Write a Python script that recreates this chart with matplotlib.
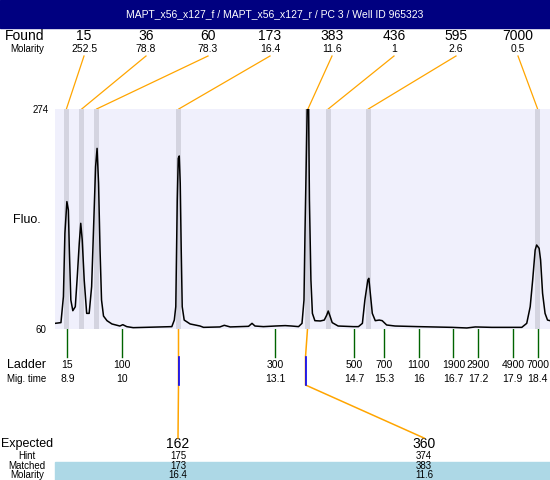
import matplotlib
matplotlib.use("Agg")
import matplotlib.pyplot as plt
from matplotlib.patches import Rectangle

plt.rcParams['font.family'] = ['Liberation Sans', 'DejaVu Sans']

title = "MAPT_x56_x127_f / MAPT_x56_x127_r / PC 3 / Well ID 965323"

# electropherogram trace (migration time s, fluorescence)
trace_t = [8.65, 8.77, 8.82, 8.85, 8.89, 8.92, 8.94, 8.97, 9.01, 9.06, 9.10, 9.14,
           9.17, 9.20, 9.24, 9.29, 9.34, 9.39, 9.43, 9.47, 9.50, 9.53, 9.56, 9.59,
           9.63, 9.70, 9.80, 9.96, 10.02, 10.10, 10.23, 11.01, 11.06, 11.09, 11.12,
           11.14, 11.16, 11.18, 11.20, 11.22, 11.26, 11.38, 11.58, 11.65, 11.98, 12.07,
           12.19, 12.56, 12.63, 12.69, 12.86, 13.10, 13.30, 13.43, 13.57, 13.64, 13.68,
           13.70, 13.73, 13.75, 13.77, 13.79, 13.82, 13.85, 13.90, 14.01, 14.09, 14.14,
           14.17, 14.21, 14.25, 14.37, 14.68, 14.78, 14.86, 14.91, 14.97, 14.99, 15.02,
           15.06, 15.12, 15.20, 15.26, 15.35, 15.52, 15.99, 16.67, 16.97, 17.14, 17.47,
           17.81, 18.08, 18.18, 18.25, 18.30, 18.35, 18.38, 18.43, 18.46, 18.50, 18.55,
           18.60, 18.65]
trace_f = [65.5, 66.2, 91.5, 153, 183.9, 175.8, 136.8, 88.2, 77.8, 81.7, 110.9, 143.3,
           162.8, 146.6, 107.7, 75.2, 75.2, 101.2, 159.5, 217.9, 235.7, 201.7, 136.8, 88.2,
           72.6, 68.1, 64.9, 62.9, 64.2, 62.3, 61.3, 62.3, 68.7, 81.7, 185.5,
           226, 228.3, 201.7, 136.8, 81.7, 68.7, 64.9, 62.9, 61.6, 62.0, 63.6,
           62.0, 62.6, 65.5, 62.9, 62.3, 62.9, 63.3, 62.9, 62.3, 65.5, 88.2,
           153, 234.1, 290, 290, 185.5, 107.7, 75.2, 68.1, 67.8, 68.7, 73.6,
           77.5, 72.0, 66.2, 62.9, 62.3, 62.3, 65.5, 88.2, 107.7, 109.3, 94.7,
           75.2, 68.1, 68.7, 68.1, 63.9, 62.9, 62.3, 61.6, 61.0, 62.0, 61.6,
           61.6, 61.6, 65.5, 81.7, 107.7, 136.8, 141.7, 138.5, 127.1, 94.7, 75.2,
           68.7, 68.1]

# found peaks
found_size = ["15", "36", "60", "173", "383", "436", "595", "7000"]
found_molarity = ["252.5", "78.8", "78.3", "16.4", "11.6", "1", "2.6", "0.5"]
found_time = [8.88, 9.19, 9.49, 11.15, 13.76, 14.17, 14.98, 18.40]

# ladder
ladder_size = ["15", "100", "300", "500", "700", "1100", "1900", "2900", "4900", "7000"]
ladder_time = [8.9, 10, 13.1, 14.7, 15.3, 16, 16.7, 17.2, 17.9, 18.4]

# expected fragments
expected = ["162", "360"]
hint = ["175", "374"]
matched = ["173", "383"]
matched_molarity = ["16.4", "11.6"]
matched_idx = [3, 4]

fig = plt.figure(figsize=(5.5, 4.8), dpi=100)

# overlay in pixel coordinates for all the labels
ov = fig.add_axes([0, 0, 1, 1])
ov.set_xlim(0, 550)
ov.set_ylim(480, 0)
ov.axis('off')

ax = fig.add_axes([55 / 550, 1 - 329 / 480, 495 / 550, 220 / 480])
ax.set_facecolor('#f0f0fc')
ax.set_xlim(8.65, 18.65)
ax.set_ylim(60, 274)
for s in ax.spines.values():
    s.set_visible(False)
ax.set_xticks([])
ax.set_yticks([])

for t in found_time:
    ax.axvspan(t - 0.05, t + 0.05, color='#d4d4e0', lw=0, zorder=1)
ax.plot(trace_t, trace_f, color='black', lw=1.1, zorder=3)


def to_px(t):
    disp = ax.transData.transform((t, 60))
    return ov.transData.inverted().transform(disp)[0]


# header
ov.add_patch(Rectangle((0, 0), 550, 28, color='#000080', zorder=0))
ov.text(275, 14, title, color='white', ha='center', va='center', fontsize=7.5)

# found row
ov.text(5, 36, "Found", ha='left', va='center', fontsize=10)
ov.text(27, 49, "Molarity", ha='center', va='center', fontsize=7)
for i, (sz, mol, t) in enumerate(zip(found_size, found_molarity, found_time)):
    cx = 84 + 62 * i
    ov.text(cx, 36, sz, ha='center', va='center', fontsize=10)
    ov.text(cx, 49, mol, ha='center', va='center', fontsize=7.5)
    ov.plot([cx, to_px(t)], [56, 109], color='orange', lw=0.9)

# y labels
ov.text(41, 110, "274", ha='center', va='center', fontsize=7)
ov.text(41, 330, "60", ha='center', va='center', fontsize=7)
ov.text(27, 220, "Fluo.", ha='center', va='center', fontsize=9)

# ladder row
ov.text(27, 365, "Ladder", ha='center', va='center', fontsize=9)
ov.text(27, 379, "Mig. time", ha='center', va='center', fontsize=7)
for sz, t in zip(ladder_size, ladder_time):
    x = to_px(t)
    ov.plot([x, x], [329, 357], color='#006400', lw=1)
    ov.text(x, 365, sz, ha='center', va='center', fontsize=7.5)
    ov.text(x, 379, f"{t:g}", ha='center', va='center', fontsize=7.5)

# expected rows
col_x = [178, 424]
ov.add_patch(Rectangle((55, 462), 495, 18, color='#add8e6', zorder=0))
ov.text(27, 444, "Expected", ha='center', va='center', fontsize=9)
ov.text(27, 456, "Hint", ha='center', va='center', fontsize=7)
ov.text(27, 466, "Matched", ha='center', va='center', fontsize=7)
ov.text(27, 475, "Molarity", ha='center', va='center', fontsize=7)
for cx, e, h, m, mm, idx in zip(col_x, expected, hint, matched, matched_molarity, matched_idx):
    px = int(to_px(found_time[idx])) + 0.5
    lx = px - 2 if idx == 4 else px
    ov.plot([px, lx, lx, cx], [329, 357, 385, 438], color='#ffa500', lw=1.1,
            zorder=5, snap=False)
    ov.plot([lx, lx], [357, 385], color='blue', lw=1.2, zorder=6)
    ov.text(cx, 444, e, ha='center', va='center', fontsize=10)
    ov.text(cx, 456, h, ha='center', va='center', fontsize=7)
    ov.text(cx, 466, m, ha='center', va='center', fontsize=7)
    ov.text(cx, 475, mm, ha='center', va='center', fontsize=7)

fig.savefig("out.png", dpi=100)
